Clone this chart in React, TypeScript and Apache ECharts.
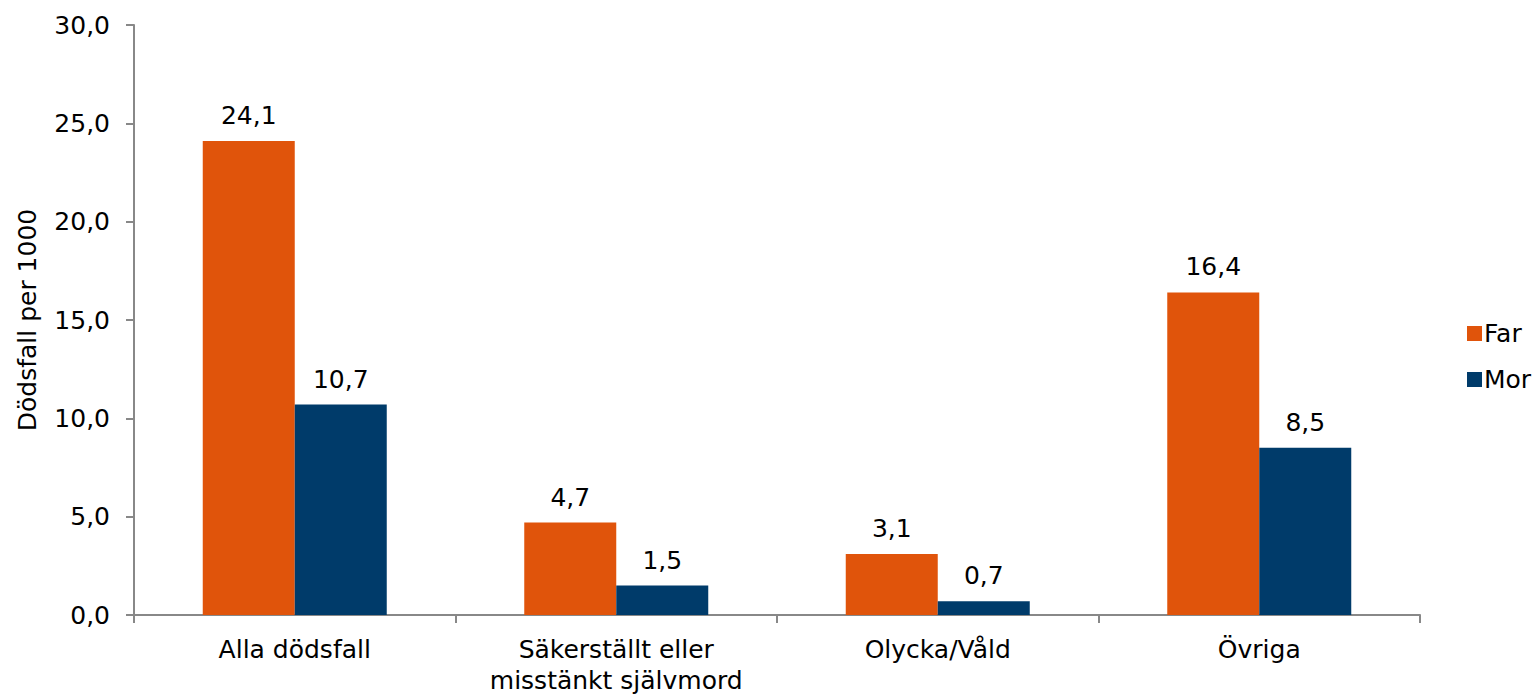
import React, { useEffect, useRef } from "react";
import * as echarts from "echarts";

const categories = ["Alla dödsfall", "Säkerställt eller\nmisstänkt självmord", "Olycka/Våld", "Övriga"];
const farValues = [24.1, 4.7, 3.1, 16.4];
const morValues = [10.7, 1.5, 0.7, 8.5];
const seriesNames = ["Far", "Mor"];
const yAxisName = "Dödsfall per 1000";

const FONT = "DejaVu Sans";
const FS = 25;
const fmt = (v: number) => v.toFixed(1).replace(".", ",");

export default function App() {
  const ref = useRef<HTMLDivElement>(null);
  useEffect(() => {
    const chart = echarts.init(ref.current!, undefined, { renderer: "svg" });
    const labelStyle = {
      show: true,
      position: "top" as const,
      distance: 13,
      color: "#000",
      fontFamily: FONT,
      fontSize: FS,
      formatter: (p: any) => fmt(p.value),
    };
    chart.setOption({
      animation: false,
      textStyle: { fontFamily: FONT },
      grid: { left: 134, right: 114, top: 25, bottom: 73, containLabel: false },
      legend: {
        orient: "vertical",
        left: 1462,
        top: 316,
        itemWidth: 15,
        itemHeight: 15,
        itemGap: 21,
        icon: "rect",
        textStyle: { fontFamily: FONT, fontSize: FS, color: "#000", padding: [0, 0, 0, -3] },
        data: seriesNames,
      },
      xAxis: {
        type: "category",
        data: categories,
        axisLine: { show: true, lineStyle: { color: "#888", width: 2 } },
        axisTick: { show: true, length: 8, lineStyle: { color: "#888", width: 2 } },
        axisLabel: {
          interval: 0,
          margin: 19,
          color: "#000",
          fontFamily: FONT,
          fontSize: FS,
          lineHeight: 31,
        },
      },
      yAxis: {
        type: "value",
        min: 0,
        max: 30,
        interval: 5,
        name: yAxisName,
        nameLocation: "middle",
        nameRotate: 90,
        nameGap: 94,
        nameTextStyle: { fontFamily: FONT, fontSize: FS, color: "#000" },
        splitLine: { show: false },
        axisLine: { show: true, lineStyle: { color: "#888", width: 2 } },
        axisTick: { show: true, length: 8, lineStyle: { color: "#888", width: 2 } },
        axisLabel: {
          margin: 24,
          color: "#000",
          fontFamily: FONT,
          fontSize: FS,
          formatter: (v: number) => fmt(v),
        },
      },
      series: [
        {
          name: seriesNames[0],
          type: "bar",
          data: farValues,
          barWidth: 92,
          barGap: "0%",
          itemStyle: { color: "#E0540B" },
          label: labelStyle,
        },
        {
          name: seriesNames[1],
          type: "bar",
          data: morValues,
          barWidth: 92,
          barGap: "0%",
          itemStyle: { color: "#003B6A" },
          label: labelStyle,
        },
      ],
    });
    return () => chart.dispose();
  }, []);
  return (
    <div
      ref={ref}
      style={{ position: "fixed", left: 0, top: 0, width: 1534, height: 696, background: "#fff" }}
    />
  );
}
